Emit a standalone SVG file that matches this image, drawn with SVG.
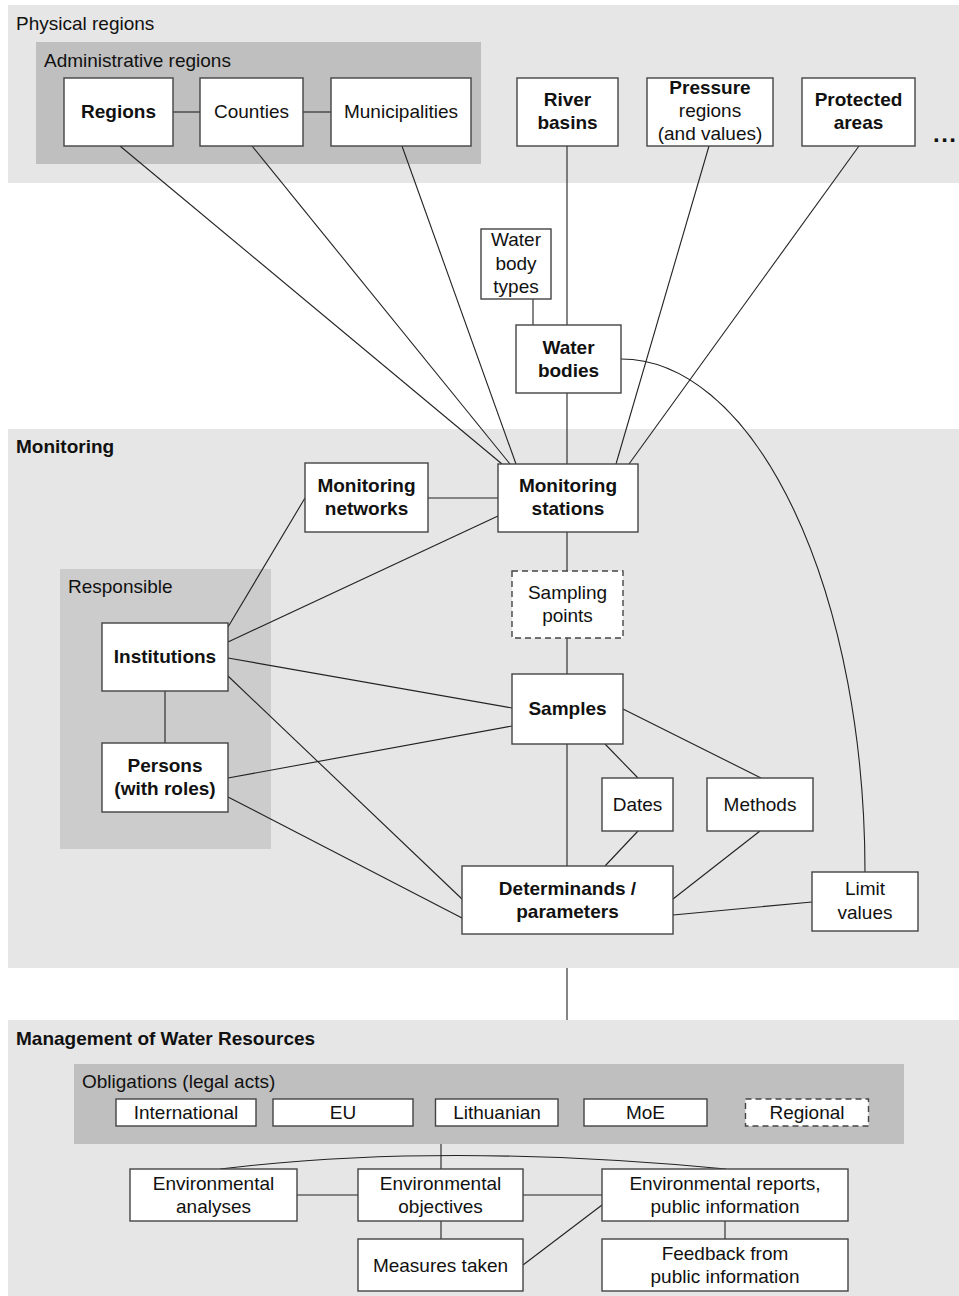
<svg xmlns="http://www.w3.org/2000/svg" width="959" height="1296" viewBox="0 0 959 1296">
<style>
.bg1{fill:#e6e6e6}
.bg2{fill:#bfbfbf}
.bg3{fill:#cccccc}
.box{fill:#ffffff;stroke:#444;stroke-width:1.4}
.dash{fill:#ffffff;stroke:#444;stroke-width:1.4;stroke-dasharray:6,4}
text{font-family:"Liberation Sans",Arial,sans-serif;font-size:19px;fill:#111}
.c{text-anchor:middle}
.b{font-weight:bold}
.con{fill:none;stroke:#222;stroke-width:1.1}
</style>
<g id="section-physical">
<rect class="bg1" x="8" y="5" width="951" height="178"/>
<text x="16" y="30">Physical regions</text>
<rect class="bg2" x="36" y="42" width="445" height="122"/>
<text x="44" y="67">Administrative regions</text>
</g>
<g id="section-monitoring">
<rect class="bg1" x="8" y="429" width="951" height="539"/>
<text class="b" x="16" y="453">Monitoring</text>
<rect class="bg3" x="60" y="569" width="211" height="280"/>
<text x="68" y="593">Responsible</text>
</g>
<g id="section-management">
<rect class="bg1" x="8" y="1020" width="951" height="276"/>
<text class="b" x="16" y="1045">Management of Water Resources</text>
<rect class="bg2" x="74" y="1064" width="830" height="80"/>
<text x="82" y="1088">Obligations (legal acts)</text>
</g>
<g id="connectors">
<line class="con" x1="173" y1="112" x2="200" y2="112"/>
<line class="con" x1="303" y1="112" x2="331" y2="112"/>
<line class="con" x1="120" y1="146" x2="502" y2="464"/>
<line class="con" x1="252" y1="146" x2="510" y2="464"/>
<line class="con" x1="402" y1="146" x2="516" y2="464"/>
<line class="con" x1="567" y1="146" x2="567" y2="325"/>
<line class="con" x1="533" y1="299" x2="533" y2="325"/>
<line class="con" x1="567" y1="393" x2="567" y2="464"/>
<line class="con" x1="709" y1="146" x2="616" y2="464"/>
<line class="con" x1="859" y1="146" x2="629" y2="464"/>
<path class="con" d="M621,359 A244,513 0 0 1 865,872"/>
<line class="con" x1="428" y1="498" x2="498" y2="498"/>
<line class="con" x1="228" y1="627" x2="305" y2="498"/>
<line class="con" x1="228" y1="642" x2="498" y2="516"/>
<line class="con" x1="228" y1="658" x2="512" y2="708"/>
<line class="con" x1="228" y1="676" x2="462" y2="899"/>
<line class="con" x1="165" y1="691" x2="165" y2="743"/>
<line class="con" x1="228" y1="778" x2="512" y2="726"/>
<line class="con" x1="228" y1="797" x2="462" y2="918"/>
<line class="con" x1="567" y1="532" x2="567" y2="571"/>
<line class="con" x1="567" y1="638" x2="567" y2="674"/>
<line class="con" x1="567" y1="744" x2="567" y2="866"/>
<line class="con" x1="623" y1="709" x2="761" y2="778"/>
<line class="con" x1="605" y1="744" x2="638" y2="778"/>
<line class="con" x1="638" y1="831" x2="605" y2="866"/>
<line class="con" x1="760" y1="831" x2="673" y2="899"/>
<line class="con" x1="673" y1="915" x2="812" y2="902"/>
<line class="con" x1="567" y1="968" x2="567" y2="1020"/>
<line class="con" x1="441" y1="1144" x2="441" y2="1169"/>
<path class="con" d="M220,1169 Q441,1142 726,1169"/>
<line class="con" x1="297" y1="1195" x2="358" y2="1195"/>
<line class="con" x1="523" y1="1195" x2="602" y2="1195"/>
<line class="con" x1="441" y1="1221" x2="441" y2="1239"/>
<line class="con" x1="725" y1="1221" x2="725" y2="1239"/>
<line class="con" x1="523" y1="1265" x2="602" y2="1205"/>
</g>
<g id="regions"><rect class="box" x="64" y="78" width="109" height="68"/><text class="c b" x="118.5" y="118">Regions</text></g>
<g id="counties"><rect class="box" x="200" y="78" width="103" height="68"/><text class="c" x="251.5" y="118">Counties</text></g>
<g id="municipalities"><rect class="box" x="331" y="78" width="140" height="68"/><text class="c" x="401" y="118">Municipalities</text></g>
<g id="river-basins"><rect class="box" x="517" y="78" width="101" height="68"/><text class="c b" x="567.5" y="106">River</text><text class="c b" x="567.5" y="129">basins</text></g>
<g id="pressure-regions"><rect class="box" x="647" y="78" width="126" height="68"/><text class="c b" x="710" y="94">Pressure</text><text class="c" x="710" y="117">regions</text><text class="c" x="710" y="140">(and values)</text></g>
<g id="protected-areas"><rect class="box" x="802" y="78" width="113" height="68"/><text class="c b" x="858.5" y="106">Protected</text><text class="c b" x="858.5" y="129">areas</text></g>
<g id="more"><text class="b" x="933" y="142" style="font-size:24px;letter-spacing:1.5px">...</text></g>
<g id="water-body-types"><rect class="box" x="481" y="229" width="70" height="70"/><text class="c" x="516" y="246">Water</text><text class="c" x="516" y="270">body</text><text class="c" x="516" y="293">types</text></g>
<g id="water-bodies"><rect class="box" x="516" y="325" width="105" height="68"/><text class="c b" x="568.5" y="354">Water</text><text class="c b" x="568.5" y="377">bodies</text></g>
<g id="monitoring-networks"><rect class="box" x="305" y="463" width="123" height="69"/><text class="c b" x="366.5" y="492">Monitoring</text><text class="c b" x="366.5" y="515">networks</text></g>
<g id="monitoring-stations"><rect class="box" x="498" y="464" width="140" height="68"/><text class="c b" x="568" y="492">Monitoring</text><text class="c b" x="568" y="515">stations</text></g>
<g id="sampling-points"><rect class="dash" x="512" y="571" width="111" height="67"/><text class="c" x="567.5" y="599">Sampling</text><text class="c" x="567.5" y="622">points</text></g>
<g id="samples"><rect class="box" x="512" y="674" width="111" height="70"/><text class="c b" x="567.5" y="715">Samples</text></g>
<g id="institutions"><rect class="box" x="102" y="623" width="126" height="68"/><text class="c b" x="165" y="663">Institutions</text></g>
<g id="persons"><rect class="box" x="102" y="743" width="126" height="69"/><text class="c b" x="165" y="772">Persons</text><text class="c b" x="165" y="795">(with roles)</text></g>
<g id="dates"><rect class="box" x="602" y="778" width="71" height="53"/><text class="c" x="637.5" y="811">Dates</text></g>
<g id="methods"><rect class="box" x="707" y="778" width="106" height="53"/><text class="c" x="760" y="811">Methods</text></g>
<g id="determinands"><rect class="box" x="462" y="866" width="211" height="68"/><text class="c b" x="567.5" y="895">Determinands /</text><text class="c b" x="567.5" y="918">parameters</text></g>
<g id="limit-values"><rect class="box" x="812" y="872" width="106" height="59"/><text class="c" x="865" y="895">Limit</text><text class="c" x="865" y="919">values</text></g>
<g id="international"><rect class="box" x="116" y="1099" width="140" height="27"/><text class="c" x="186" y="1119">International</text></g>
<g id="eu"><rect class="box" x="273" y="1099" width="140" height="27"/><text class="c" x="343" y="1119">EU</text></g>
<g id="lithuanian"><rect class="box" x="435.5" y="1099" width="122.5" height="27"/><text class="c" x="497" y="1119">Lithuanian</text></g>
<g id="moe"><rect class="box" x="584" y="1099" width="123" height="27"/><text class="c" x="645.5" y="1119">MoE</text></g>
<g id="regional"><rect class="dash" x="745.5" y="1099" width="123" height="27"/><text class="c" x="807" y="1119">Regional</text></g>
<g id="env-analyses"><rect class="box" x="130" y="1169" width="167" height="52"/><text class="c" x="213.5" y="1190">Environmental</text><text class="c" x="213.5" y="1213">analyses</text></g>
<g id="env-objectives"><rect class="box" x="358" y="1169" width="165" height="52"/><text class="c" x="440.5" y="1190">Environmental</text><text class="c" x="440.5" y="1213">objectives</text></g>
<g id="env-reports"><rect class="box" x="602" y="1169" width="246" height="52"/><text class="c" x="725" y="1190">Environmental reports,</text><text class="c" x="725" y="1213">public information</text></g>
<g id="measures-taken"><rect class="box" x="358" y="1239" width="165" height="52"/><text class="c" x="440.5" y="1272">Measures taken</text></g>
<g id="feedback"><rect class="box" x="602" y="1239" width="246" height="52"/><text class="c" x="725" y="1260">Feedback from</text><text class="c" x="725" y="1283">public information</text></g>
</svg>
